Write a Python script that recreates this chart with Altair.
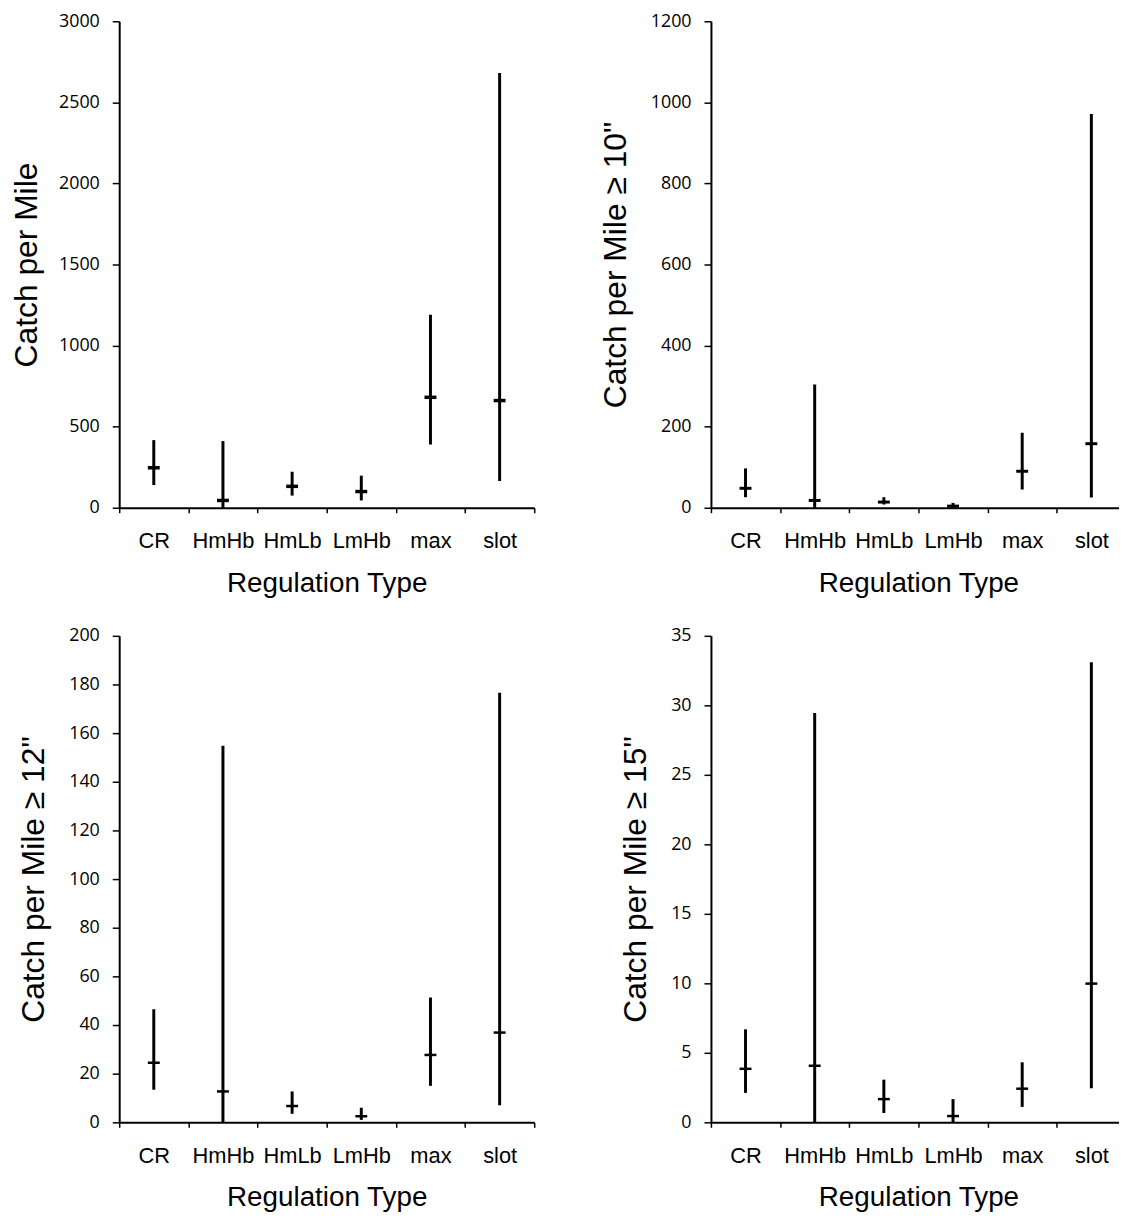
import altair as alt
import pandas as pd

cats = ["CR", "HmHb", "HmLb", "LmHb", "max", "slot"]

# Panel 1: Catch per Mile
p1_mean = [246, 45, 132, 100, 681, 661]
p1_low = [140, 0, 75, 45, 390, 165]
p1_high = [417, 411, 222, 198, 1190, 2681]

# Panel 2: Catch per Mile >= 10"
p2_mean = [48, 18, 14, 4, 90, 158]
p2_low = [26, 0, 8, 0.5, 45, 25]
p2_high = [97, 304, 26, 12, 185, 971]

# Panel 3: Catch per Mile >= 12"
p3_mean = [24.5, 12.7, 6.7, 2.5, 27.7, 36.9]
p3_low = [13.4, 0, 3.5, 1, 15, 7]
p3_high = [46.5, 154.8, 12.7, 6, 51.3, 176.6]

# Panel 4: Catch per Mile >= 15"
p4_mean = [3.85, 4.07, 1.67, 0.45, 2.42, 9.98]
p4_low = [2.12, 0, 0.67, 0, 1.11, 2.45]
p4_high = [6.69, 29.45, 3.07, 1.67, 4.32, 33.1]

titles = ["Catch per Mile", "Catch per Mile \u2265 10\"", "Catch per Mile \u2265 12\"", "Catch per Mile \u2265 15\""]
y_max = [3000, 1200, 200, 35]
y_step = [500, 200, 20, 5]
mean_thickness = [3.5, 3, 2.5, 2.5]
title_pad = [15, 18, 18, 18]


def panel(mean, low, high, title, ymax, step, mthick, tpad):
    df = pd.DataFrame({"cat": cats, "mean": mean, "low": low, "high": high})
    xenc = alt.X(
        "cat:N",
        sort=cats,
        scale=alt.Scale(paddingInner=0, paddingOuter=0),
        axis=alt.Axis(title="Regulation Type", labelAngle=0, tickBand="extent"),
    )
    yscale = alt.Scale(domain=[0, ymax], nice=False, zero=True)
    yaxis = alt.Axis(title=title, values=list(range(0, ymax + 1, step)), format="d", titlePadding=tpad)
    base = alt.Chart(df)
    rule = base.mark_rule(color="black", strokeWidth=3).encode(
        x=xenc,
        y=alt.Y("low:Q", scale=yscale, axis=yaxis),
        y2="high:Q",
    )
    tick = base.mark_tick(color="black", thickness=mthick, size=12, opacity=1).encode(
        x=xenc,
        y=alt.Y("mean:Q", scale=yscale, axis=yaxis),
    )
    return (rule + tick).properties(width=418, height=490)


panels = [
    panel(p1_mean, p1_low, p1_high, titles[0], y_max[0], y_step[0], mean_thickness[0], title_pad[0]),
    panel(p2_mean, p2_low, p2_high, titles[1], y_max[1], y_step[1], mean_thickness[1], title_pad[1]),
    panel(p3_mean, p3_low, p3_high, titles[2], y_max[2], y_step[2], mean_thickness[2], title_pad[2]),
    panel(p4_mean, p4_low, p4_high, titles[3], y_max[3], y_step[3], mean_thickness[3], title_pad[3]),
]

chart = (
    alt.concat(*panels, columns=2, spacing={"row": 129, "column": 178}, bounds="flush")
    .properties(padding={"left": 2, "top": 0, "right": -8, "bottom": 0}, background="white")
    .configure_view(stroke=None)
    .configure_axis(
        grid=False,
        domainColor="black",
        domainWidth=2,
        tickColor="black",
        tickWidth=1.5,
        labelColor="black",
        titleColor="black",
        titleFontWeight="normal",
        titleFont="Liberation Sans",
    )
    .configure_axisX(
        labelFont="Liberation Sans",
        labelFontSize=22,
        tickSize=5,
        labelPadding=18,
        titleFontSize=28,
        titlePadding=18,
    )
    .configure_axisY(
        labelFont="Open Sans",
        labelFontSize=18,
        tickSize=7,
        labelPadding=13,
        titleFontSize=32,
    )
)

chart.save("out.html", embed_options={"renderer": "svg", "actions": False})
